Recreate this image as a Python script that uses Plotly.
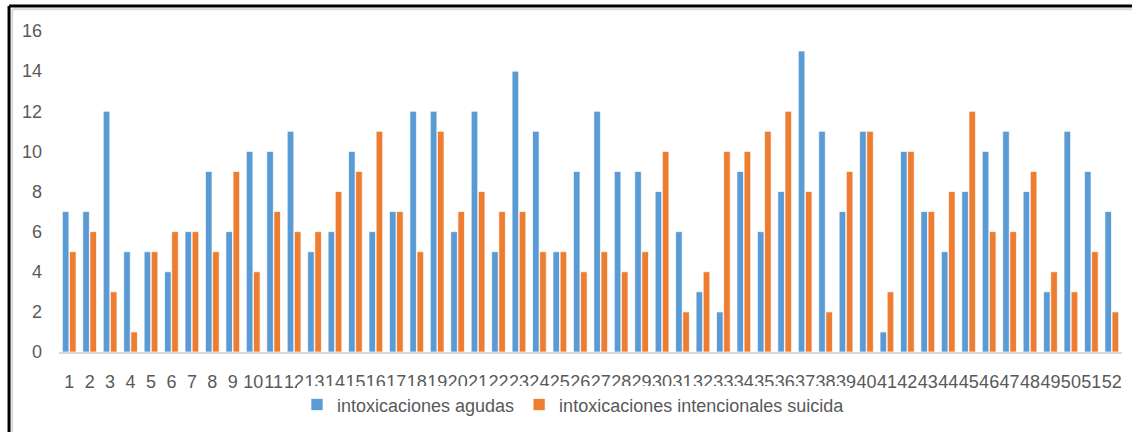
import plotly.graph_objects as go

semanas = [str(i) for i in range(1, 53)]
agudas = [7, 7, 12, 5, 5, 4, 6, 9, 6, 10, 10, 11, 5, 6, 10, 6, 7, 12, 12, 6,
          12, 5, 14, 11, 5, 9, 12, 9, 9, 8, 6, 3, 2, 9, 6, 8, 15, 11, 7, 11,
          1, 10, 7, 5, 8, 10, 11, 8, 3, 11, 9, 7]
suicidas = [5, 6, 3, 1, 5, 6, 6, 5, 9, 4, 7, 6, 6, 8, 9, 11, 7, 5, 11, 7,
            8, 7, 7, 5, 5, 4, 5, 4, 5, 10, 2, 4, 10, 10, 11, 12, 8, 2, 9, 11,
            3, 10, 7, 8, 12, 6, 6, 9, 4, 3, 5, 2]
y_ticks = [0, 2, 4, 6, 8, 10, 12, 14, 16]

fig = go.Figure()
fig.add_trace(go.Bar(x=semanas, y=agudas, name="intoxicaciones agudas",
                     marker=dict(color="#5B9BD5", line=dict(color="white", width=0.7))))
fig.add_trace(go.Bar(x=semanas, y=suicidas, name="intoxicaciones intencionales suicida",
                     marker=dict(color="#ED7D31", line=dict(color="white", width=0.7))))

fig.update_layout(
    width=1132, height=432,
    margin=dict(l=59, r=10, t=31, b=79),
    paper_bgcolor="white", plot_bgcolor="white",
    barmode="group", bargap=0.3, bargroupgap=0.08,
    font=dict(family="Liberation Sans", size=18, color="#595959"),
    showlegend=True,
    legend=dict(orientation="h", x=0.484, xanchor="center", y=-0.161, yanchor="middle",
                font=dict(size=18, color="#595959"), itemwidth=30,
                traceorder="normal"),
)
fig.update_xaxes(type="category", tickmode="linear", dtick=1, tickangle=0,
                 showline=True, linecolor="#D9D9D9", linewidth=2,
                 ticks="", showgrid=False, ticklabelstandoff=12,
                 tickfont=dict(size=18, color="#595959"))
fig.update_yaxes(range=[0, 16], tickvals=y_ticks, showgrid=False,
                 zeroline=False, showline=False, ticks="",
                 ticklabelstandoff=16,
                 tickfont=dict(size=18, color="#595959"))

# outer frame like the pasted image
fig.add_shape(type="line", xref="paper", yref="paper", x0=-0.044, x1=1.02,
              y0=1.068, y1=1.068, line=dict(color="#D9D9D9", width=2))
fig.add_shape(type="line", xref="paper", yref="paper", x0=-0.044, x1=-0.044,
              y0=1.068, y1=-0.3, line=dict(color="#D9D9D9", width=2))
fig.add_shape(type="line", xref="paper", yref="paper", x0=-0.047, x1=1.02,
              y0=1.078, y1=1.078, line=dict(color="black", width=3))
fig.add_shape(type="line", xref="paper", yref="paper", x0=-0.047, x1=-0.047,
              y0=1.078, y1=-0.3, line=dict(color="black", width=3))

fig.write_html("out.html", config={"displayModeBar": False},
               post_script="document.body.style.margin='0';")
